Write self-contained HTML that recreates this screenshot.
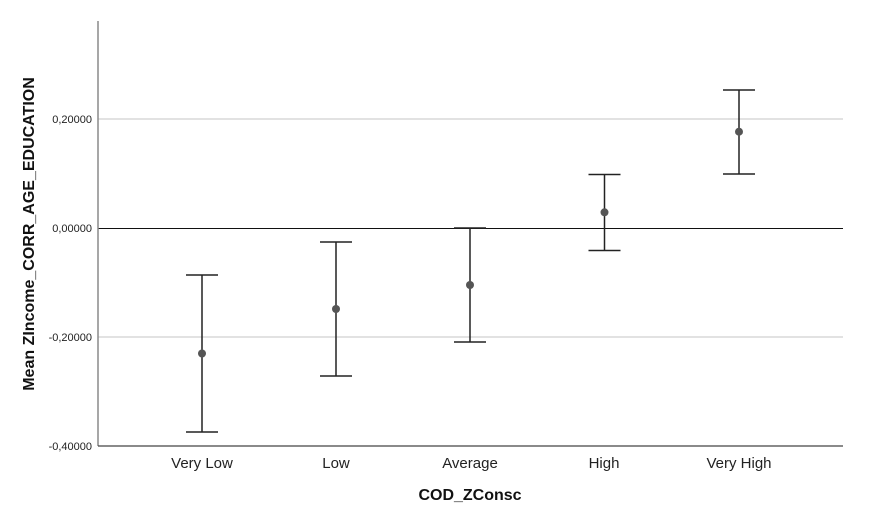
<!DOCTYPE html>
<html><head><meta charset="utf-8"><style>
html,body{margin:0;padding:0;background:#fff;}
svg{display:block;}
text{font-family:"Liberation Sans",Arial,sans-serif;}
</style></head><body>
<svg width="871" height="518" viewBox="0 0 871 518" xmlns="http://www.w3.org/2000/svg">
<rect width="871" height="518" fill="#fff"/>
<!-- grid -->
<line x1="98" y1="119" x2="843" y2="119" stroke="#c4c4c4" stroke-width="1"/>
<line x1="98" y1="337" x2="843" y2="337" stroke="#c4c4c4" stroke-width="1"/>
<line x1="98" y1="228.5" x2="843" y2="228.5" stroke="#111" stroke-width="1"/>
<!-- axes -->
<line x1="98" y1="21" x2="98" y2="446" stroke="#8a8a8a" stroke-width="1.5"/>
<line x1="98" y1="446" x2="843" y2="446" stroke="#444" stroke-width="1.2"/>
<!-- y tick labels -->
<g font-size="11" fill="#222" text-anchor="end">
<text x="92" y="123">0,20000</text>
<text x="92" y="232">0,00000</text>
<text x="92" y="341">-0,20000</text>
<text x="92" y="450">-0,40000</text>
</g>
<!-- x labels -->
<g font-size="15" fill="#222" text-anchor="middle">
<text x="202" y="468">Very Low</text>
<text x="336" y="468">Low</text>
<text x="470" y="468">Average</text>
<text x="604" y="468">High</text>
<text x="739" y="468">Very High</text>
</g>
<text x="470" y="500" font-size="16" font-weight="bold" text-anchor="middle" fill="#111">COD_ZConsc</text>
<text transform="translate(34,234) rotate(-90)" font-size="16" font-weight="bold" text-anchor="middle" fill="#111">Mean ZIncome_CORR_AGE_EDUCATION</text>
<!-- error bars -->
<g stroke="#222" stroke-width="1.5" fill="none">
<line x1="202" y1="275" x2="202" y2="432"/><line x1="186" y1="275" x2="218" y2="275"/><line x1="186" y1="432" x2="218" y2="432"/>
<line x1="336" y1="242" x2="336" y2="376"/><line x1="320" y1="242" x2="352" y2="242"/><line x1="320" y1="376" x2="352" y2="376"/>
<line x1="470" y1="228" x2="470" y2="342"/><line x1="454" y1="228" x2="486" y2="228"/><line x1="454" y1="342" x2="486" y2="342"/>
<line x1="604.5" y1="174.5" x2="604.5" y2="250.5"/><line x1="588.5" y1="174.5" x2="620.5" y2="174.5"/><line x1="588.5" y1="250.5" x2="620.5" y2="250.5"/>
<line x1="739" y1="90" x2="739" y2="174"/><line x1="723" y1="90" x2="755" y2="90"/><line x1="723" y1="174" x2="755" y2="174"/>
</g>
<g fill="#555">
<circle cx="202" cy="353.5" r="4"/>
<circle cx="336" cy="309" r="4"/>
<circle cx="470" cy="285" r="4"/>
<circle cx="604.5" cy="212.3" r="4"/>
<circle cx="739" cy="131.7" r="4"/>
</g>
</svg>
</body></html>
